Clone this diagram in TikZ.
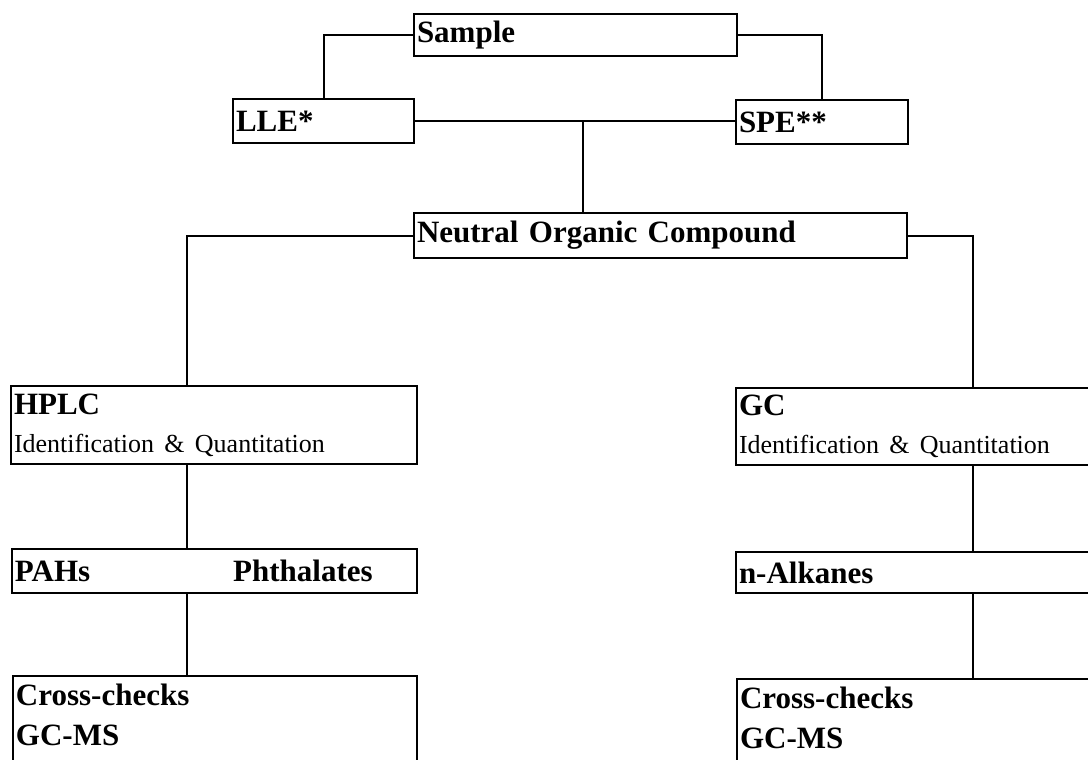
\documentclass[tikz,border=0pt]{standalone}
\usepackage{fontspec}
\setmainfont{Liberation Serif}

\begin{document}
\begin{tikzpicture}[x=1pt, y=-1pt]
% Setup the styles for the boxes and the lines
\tikzset{box style/.style={draw, rectangle,
		anchor=north west,
		line width=2pt,
		inner xsep=3pt, inner ysep=0pt,
		align=left,
		font=\bfseries\fontsize{31}{38}\selectfont},
	line style/.style={line width=2pt}}
\useasboundingbox (0, 0) rectangle (1088, 760);
\clip (0, 0) rectangle (1088, 760);

% Draw the boxes
\node[box style, text width=317pt, minimum height=42pt] at (413, 13)  (sample)  {Sample};
\node[box style, text width=175pt, minimum height=44pt] at (232, 98)  (lle)     {LLE*};
\node[box style, text width=166pt, minimum height=44pt] at (735, 99)  (spe)     {SPE**};
\node[box style, text width=487pt, minimum height=45pt] at (413, 212) (neutral) {Neutral Organic Compound};
\node[box style, text width=400pt, minimum height=78pt] at (10, 385)  (hplc)
	{HPLC\\{\mdseries\fontsize{26}{30}\selectfont Identification \& Quantitation}};
\node[box style, text width=399pt, minimum height=44pt] at (11, 548)  (pahs)    {PAHs\hspace{143pt}Phthalates};
\node[box style, text width=398pt, inner ysep=8pt] at (12, 675) (crossL)
	{Cross-checks\\[2pt]GC-MS\rule[-40pt]{0pt}{1pt}};
\node[box style, text width=400pt, minimum height=77pt] at (735, 387) (gc)
	{GC\\{\mdseries\fontsize{26}{30}\selectfont Identification \& Quantitation}};
\node[box style, text width=400pt, minimum height=41pt] at (735, 551) (alk)     {n-Alkanes};
\node[box style, text width=400pt, inner ysep=8pt] at (736, 678) (crossR)
	{Cross-checks\\[2pt]GC-MS\rule[-40pt]{0pt}{1pt}};

% Columns of the vertical links
\coordinate (split)    at (583, 0);
\coordinate (leftcol)  at (187, 0);
\coordinate (rightcol) at (973, 0);

% Connect the boxes
\draw[line style] (sample.west) -| (lle.north);
\draw[line style] (sample.east) -| (spe.north);
\draw[line style] (lle.east) -- (lle.east -| spe.west);
\draw[line style] (split |- lle.east) -- (split |- neutral.north);
\draw[line style] (neutral.west) -| (leftcol |- hplc.north);
\draw[line style] (neutral.east) -| (rightcol |- gc.north);
\draw[line style] (leftcol |- hplc.south) -- (leftcol |- pahs.north);
\draw[line style] (leftcol |- pahs.south) -- (leftcol |- crossL.north);
\draw[line style] (rightcol |- gc.south) -- (rightcol |- alk.north);
\draw[line style] (rightcol |- alk.south) -- (rightcol |- crossR.north);
\end{tikzpicture}
\end{document}
